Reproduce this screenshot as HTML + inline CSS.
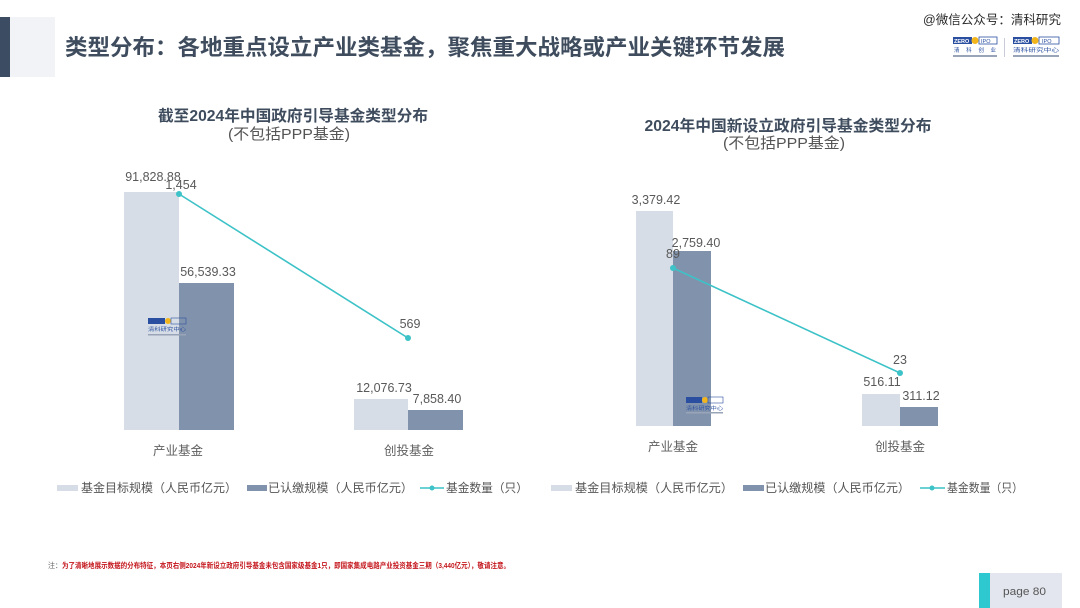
<!DOCTYPE html>
<html>
<head>
<meta charset="utf-8">
<style>
  html,body{margin:0;padding:0;background:#fff;}
  body{width:1080px;height:608px;overflow:hidden;}
  svg{display:block;}
  text{font-family:"Liberation Sans","Noto Sans CJK SC",sans-serif;}
</style>
</head>
<body>
<svg width="1080" height="608" viewBox="0 0 1080 608" xmlns="http://www.w3.org/2000/svg">
  <rect x="0" y="0" width="1080" height="608" fill="#ffffff"/>

  <!-- Header -->
  <rect x="10" y="17" width="45" height="60" fill="#f1f3f7"/>
  <rect x="0" y="17" width="10" height="60" fill="#3c4d63"/>
  <text x="65" y="55" font-size="22" font-weight="bold" fill="#3e4c5e" textLength="720" lengthAdjust="spacingAndGlyphs">类型分布：各地重点设立产业类基金，聚焦重大战略或产业关键环节发展</text>

  <!-- watermark top right -->
  <text x="923" y="24" font-size="12.5" fill="#2a2a2a" textLength="138" lengthAdjust="spacingAndGlyphs">@微信公众号：清科研究</text>
  <!-- logo 1 -->
  <g>
    <rect x="953" y="37" width="19" height="7" fill="#2a4fa0"/>
    <text x="954" y="43" font-size="5.5" font-weight="bold" fill="#fff">ZERO</text>
    <circle cx="975" cy="40.5" r="3.5" fill="#f2b51c"/>
    <rect x="979" y="37" width="18" height="7" fill="none" stroke="#2a4fa0" stroke-width="0.8"/>
    <text x="981" y="43" font-size="5.5" fill="#2a4fa0">IPO</text>
    <text x="954" y="52" font-size="5.5" fill="#2a4fa0" textLength="42" lengthAdjust="spacing">清科创业</text>
    <rect x="953" y="55" width="44" height="2" fill="#9aa4b8"/>
    <rect x="1004" y="38" width="1" height="19" fill="#c8cdd8"/>
  </g>
  <!-- logo 2 -->
  <g>
    <rect x="1013" y="37" width="19" height="7" fill="#2a4fa0"/>
    <text x="1014" y="43" font-size="5.5" font-weight="bold" fill="#fff">ZERO</text>
    <circle cx="1035" cy="40.5" r="3.5" fill="#f2b51c"/>
    <rect x="1039" y="37" width="20" height="7" fill="none" stroke="#2a4fa0" stroke-width="0.8"/>
    <text x="1042" y="43" font-size="5.5" fill="#2a4fa0">IPO</text>
    <text x="1013" y="52" font-size="5.5" fill="#2a4fa0" textLength="46" lengthAdjust="spacingAndGlyphs">清科研究中心</text>
    <rect x="1013" y="55" width="46" height="2" fill="#9aa4b8"/>
  </g>

  <!-- ===== Left chart ===== -->
  <text x="293" y="121" font-size="15.5" font-weight="bold" fill="#3e4c5e" text-anchor="middle" textLength="270" lengthAdjust="spacingAndGlyphs">截至2024年中国政府引导基金类型分布</text>
  <text x="289" y="139" font-size="15" fill="#555" text-anchor="middle" textLength="122" lengthAdjust="spacingAndGlyphs">(不包括PPP基金)</text>

  <rect x="124" y="192" width="55" height="238" fill="#d6dde6"/>
  <rect x="179" y="283" width="55" height="147" fill="#8193ac"/>
  <rect x="354" y="399" width="54" height="31" fill="#d6dde6"/>
  <rect x="408" y="410" width="55" height="20" fill="#8193ac"/>

  <!-- in-chart logo -->
  <g>
    <rect x="148" y="318" width="17" height="6" fill="#2a4fa0"/>
    <circle cx="168" cy="321" r="3" fill="#f2b51c"/>
    <rect x="171" y="318" width="15" height="6" fill="none" stroke="#2a4fa0" stroke-width="0.6"/>
    <text x="148" y="331" font-size="5" fill="#2a4fa0" textLength="38" lengthAdjust="spacingAndGlyphs">清科研究中心</text>
    <rect x="148" y="334" width="38" height="1.5" fill="#9aa4b8"/>
  </g>

  <polyline points="179,194 408,338" fill="none" stroke="#3cc2c7" stroke-width="1.6"/>
  <circle cx="179" cy="194" r="3" fill="#3cc2c7"/>
  <circle cx="408" cy="338" r="3" fill="#3cc2c7"/>

  <g font-size="12.5" fill="#595959" text-anchor="middle">
    <text x="153" y="181">91,828.88</text>
    <text x="181" y="189">1,454</text>
    <text x="208" y="276">56,539.33</text>
    <text x="410" y="328">569</text>
    <text x="384" y="392">12,076.73</text>
    <text x="437" y="403">7,858.40</text>
  </g>
  <g font-size="12.5" fill="#5f5f5f" text-anchor="middle">
    <text x="178" y="455">产业基金</text>
    <text x="409" y="455">创投基金</text>
  </g>

  <!-- left legend -->
  <rect x="57" y="485" width="21" height="6" fill="#d6dde6"/>
  <text x="81" y="492" font-size="12" fill="#555" textLength="156" lengthAdjust="spacingAndGlyphs">基金目标规模（人民币亿元）</text>
  <rect x="247" y="485" width="20" height="6" fill="#8193ac"/>
  <text x="268" y="492" font-size="12" fill="#555" textLength="145" lengthAdjust="spacingAndGlyphs">已认缴规模（人民币亿元）</text>
  <line x1="420" y1="488" x2="444" y2="488" stroke="#3cc2c7" stroke-width="1.6"/>
  <circle cx="432" cy="488" r="2.5" fill="#3cc2c7"/>
  <text x="446" y="492" font-size="12" fill="#555" textLength="82" lengthAdjust="spacingAndGlyphs">基金数量（只）</text>

  <!-- ===== Right chart ===== -->
  <text x="788" y="131" font-size="15.5" font-weight="bold" fill="#3e4c5e" text-anchor="middle" textLength="287" lengthAdjust="spacingAndGlyphs">2024年中国新设立政府引导基金类型分布</text>
  <text x="784" y="148" font-size="15" fill="#555" text-anchor="middle" textLength="122" lengthAdjust="spacingAndGlyphs">(不包括PPP基金)</text>

  <rect x="636" y="211" width="37" height="215" fill="#d6dde6"/>
  <rect x="673" y="251" width="38" height="175" fill="#8193ac"/>
  <rect x="862" y="394" width="38" height="32" fill="#d6dde6"/>
  <rect x="900" y="407" width="38" height="19" fill="#8193ac"/>

  <!-- in-chart logo right -->
  <g>
    <rect x="686" y="397" width="16" height="6" fill="#2a4fa0"/>
    <circle cx="705" cy="400" r="3" fill="#f2b51c"/>
    <rect x="708" y="397" width="15" height="6" fill="none" stroke="#2a4fa0" stroke-width="0.6"/>
    <text x="686" y="410" font-size="5" fill="#2a4fa0" textLength="37" lengthAdjust="spacingAndGlyphs">清科研究中心</text>
    <rect x="686" y="412" width="37" height="1.5" fill="#9aa4b8"/>
  </g>

  <polyline points="673,268 900,373" fill="none" stroke="#3cc2c7" stroke-width="1.6"/>
  <circle cx="673" cy="268" r="3" fill="#3cc2c7"/>
  <circle cx="900" cy="373" r="3" fill="#3cc2c7"/>

  <g font-size="12.5" fill="#595959" text-anchor="middle">
    <text x="656" y="204">3,379.42</text>
    <text x="696" y="247">2,759.40</text>
    <text x="673" y="258">89</text>
    <text x="900" y="364">23</text>
    <text x="882" y="386">516.11</text>
    <text x="921" y="400">311.12</text>
  </g>
  <g font-size="12.5" fill="#5f5f5f" text-anchor="middle">
    <text x="673" y="451">产业基金</text>
    <text x="900" y="451">创投基金</text>
  </g>

  <!-- right legend -->
  <rect x="551" y="485" width="21" height="6" fill="#d6dde6"/>
  <text x="575" y="492" font-size="12" fill="#555" textLength="158" lengthAdjust="spacingAndGlyphs">基金目标规模（人民币亿元）</text>
  <rect x="743" y="485" width="21" height="6" fill="#8193ac"/>
  <text x="765" y="492" font-size="12" fill="#555" textLength="145" lengthAdjust="spacingAndGlyphs">已认缴规模（人民币亿元）</text>
  <line x1="920" y1="488" x2="945" y2="488" stroke="#3cc2c7" stroke-width="1.6"/>
  <circle cx="932" cy="488" r="2.5" fill="#3cc2c7"/>
  <text x="947" y="492" font-size="12" fill="#555" textLength="76" lengthAdjust="spacingAndGlyphs">基金数量（只）</text>

  <!-- footer note -->
  <text x="48" y="568" font-size="7.5" fill="#666" textLength="14" lengthAdjust="spacingAndGlyphs">注：</text>
  <text x="62" y="568" font-size="7.5" font-weight="bold" fill="#c4161c" textLength="448" lengthAdjust="spacingAndGlyphs">为了清晰地展示数据的分布特征，本页右侧2024年新设立政府引导基金未包含国家级基金1只，即国家集成电路产业投资基金三期（3,440亿元），敬请注意。</text>

  <!-- page box -->
  <rect x="979" y="573" width="83" height="35" fill="#e3e6ee"/>
  <rect x="979" y="573" width="11" height="35" fill="#2ec8d0"/>
  <text x="1003" y="595" font-size="11" fill="#555" textLength="43" lengthAdjust="spacingAndGlyphs">page  80</text>
</svg>
</body>
</html>
